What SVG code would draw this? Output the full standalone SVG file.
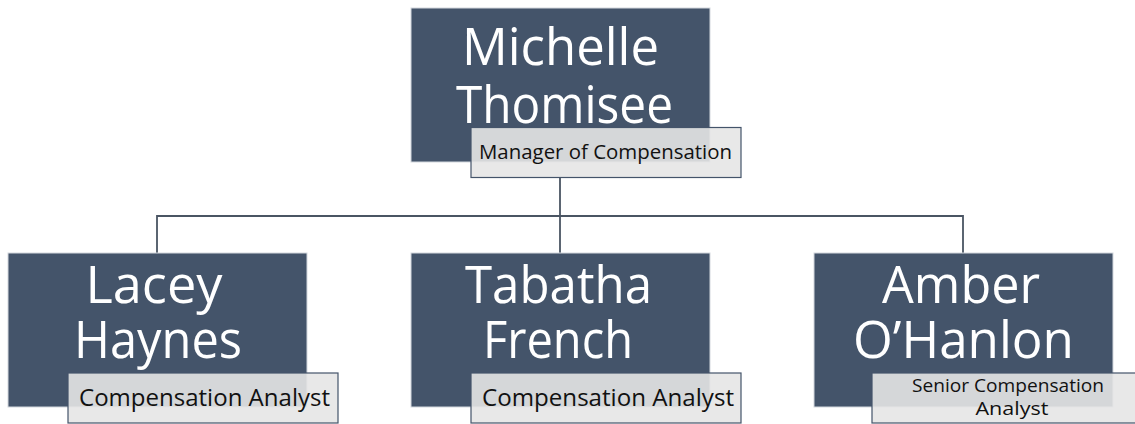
<svg xmlns="http://www.w3.org/2000/svg" width="1135" height="424" viewBox="0 0 1135 424">
<style>
.box{fill:#44546a;stroke:#d3d8de;stroke-width:1}
.lbl{fill:#e6e6e6;fill-opacity:0.9;stroke:#44546a;stroke-width:1.2}
.name{font-family:"Open Sans",sans-serif;fill:#ffffff;text-anchor:middle;font-size:51px}
.t{font-family:"Open Sans",sans-serif;fill:#111111;text-anchor:middle;font-size:23px}
.tm{font-family:"Open Sans",sans-serif;fill:#111111;text-anchor:middle;font-size:20px}
.ts{font-family:"Open Sans",sans-serif;fill:#111111;text-anchor:middle;font-size:18.5px}
.conn{fill:none;stroke:#4a5563;stroke-width:1.8}
</style>
<rect width="1135" height="424" fill="#ffffff"/>
<g id="connectors">
<path class="conn" d="M560,178 V216 M157,253 V216 H963 V253 M560,216 V253"/>
</g>
<g id="michelle">
<rect class="box" x="411" y="8" width="299" height="154"/>
<text class="name" x="560.5" y="65" textLength="197" lengthAdjust="spacingAndGlyphs">Michelle</text>
<text class="name" x="564.5" y="123" textLength="217" lengthAdjust="spacingAndGlyphs">Thomisee</text>
<rect class="lbl" x="471" y="127.5" width="270" height="50"/>
<text class="tm" x="605.5" y="158.5" textLength="253" lengthAdjust="spacingAndGlyphs">Manager of Compensation</text>
</g>
<g id="lacey">
<rect class="box" x="8" y="253" width="299" height="154"/>
<text class="name" x="154" y="303" textLength="137" lengthAdjust="spacingAndGlyphs">Lacey</text>
<text class="name" x="158" y="358" textLength="168" lengthAdjust="spacingAndGlyphs">Haynes</text>
<rect class="lbl" x="68" y="373" width="270" height="50"/>
<text class="t" x="204.5" y="405.5" textLength="251" lengthAdjust="spacingAndGlyphs">Compensation Analyst</text>
</g>
<g id="tabatha">
<rect class="box" x="411" y="253" width="299" height="154"/>
<text class="name" x="558.5" y="303" textLength="187" lengthAdjust="spacingAndGlyphs">Tabatha</text>
<text class="name" x="558" y="358" textLength="150" lengthAdjust="spacingAndGlyphs">French</text>
<rect class="lbl" x="471" y="373" width="270" height="50"/>
<text class="t" x="608" y="405.5" textLength="252" lengthAdjust="spacingAndGlyphs">Compensation Analyst</text>
</g>
<g id="amber">
<rect class="box" x="814" y="253" width="299" height="154"/>
<text class="name" x="961" y="303" textLength="158" lengthAdjust="spacingAndGlyphs">Amber</text>
<text class="name" x="963.5" y="358" textLength="221" lengthAdjust="spacingAndGlyphs">O’Hanlon</text>
<rect class="lbl" x="872" y="373" width="270" height="50"/>
<text class="ts" x="1008" y="392" textLength="192" lengthAdjust="spacingAndGlyphs">Senior Compensation</text>
<text class="ts" x="1012" y="415" textLength="73" lengthAdjust="spacingAndGlyphs">Analyst</text>
</g>
</svg>
